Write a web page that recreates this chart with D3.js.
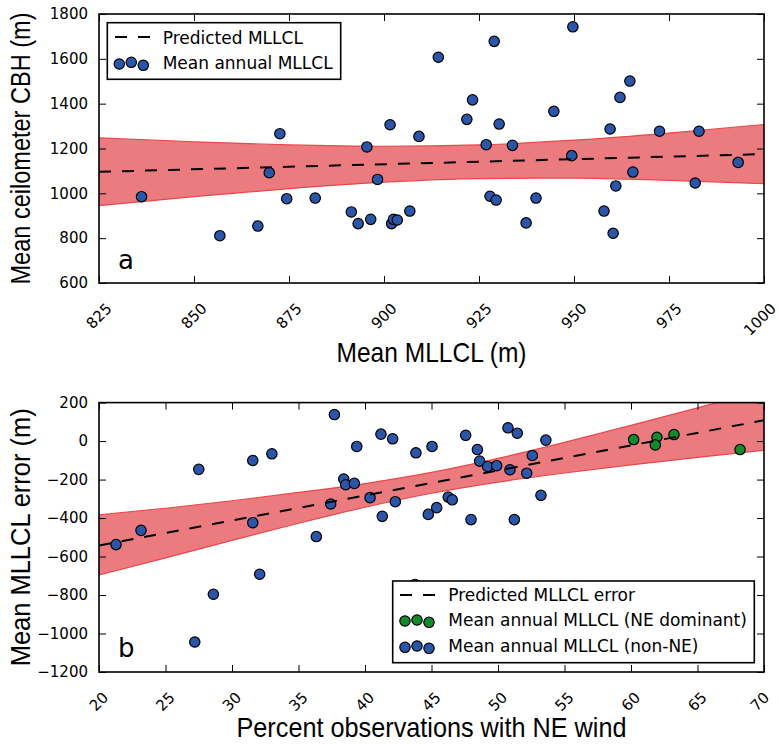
<!DOCTYPE html>
<html><head><meta charset="utf-8">
<script src="https://cdn.jsdelivr.net/npm/d3@7"></script>
<style>body{margin:0;background:#fff}svg{display:block}</style>
</head><body>
<svg id="c" width="779" height="744"></svg>
<script>
// ---------- Panel a data ----------
const aX = [836.2, 856.8, 866.8, 872.6, 869.8, 874.4, 881.9, 891.4, 893.2, 896.5, 895.5, 898.3, 901.6, 902.0, 902.5, 903.5, 906.8, 909.2, 914.3, 929.0, 949.7, 923.3, 921.8, 930.3, 926.9, 933.8, 944.7, 927.9, 929.5, 940.0, 937.4, 949.4, 959.5, 962.1, 964.7, 957.9, 960.3, 961.0, 965.5, 972.5, 982.9, 981.9, 993.2];
const aY = [985, 811, 854, 1266, 1092, 976, 979, 917, 865, 884, 1207, 1062, 1306, 865, 884, 881, 921, 1254, 1607, 1678, 1743, 1417, 1330, 1309, 1217, 1214, 1366, 987, 970, 979, 868, 1168, 1287, 1428, 1501, 921, 822, 1033, 1095, 1277, 1277, 1046, 1138];
const aLineX = [825, 1000];
const aLineY = [1096, 1175];
const aBandX = [825, 850, 875, 900, 925, 950, 975, 1000];
const aBandUpper = [1247, 1230, 1216, 1210, 1216, 1237, 1269, 1307];
const aBandLower = [945, 985, 1021, 1050, 1066, 1068, 1058, 1043];
const aXTicks = [825, 850, 875, 900, 925, 950, 975, 1000];
const aYTicks = [600, 800, 1000, 1200, 1400, 1600, 1800];

// ---------- Panel b data ----------
const bX = [21.28, 23.16, 27.5, 27.2, 28.6, 31.56, 31.56, 32.08, 33.0, 36.34, 37.42, 37.7, 38.4, 38.55, 39.2, 39.38, 40.38, 41.2, 41.3, 42.08, 42.28, 43.83, 44.76, 45.04, 45.39, 46.26, 46.56, 47.57, 47.97, 48.45, 48.62, 49.22, 49.9, 50.75, 50.9, 51.23, 51.45, 52.16, 52.58, 53.23, 53.6, 43.76];
const bY = [-538, -464, -147, -1044, -796, -101, -424, -692, -66, -496, -327, 138, -197, -227, -220, -28, -294, 36, -391, 12, -315, -61, -381, -28, -346, -291, -305, 30, -408, -44, -104, -132, -128, 69, -149, -408, 41, -167, -75, -282, 5, -745];
const gX = [60.2, 61.95, 61.83, 63.23, 68.2];
const gY = [8, 20, -20, 34, -44];
const bLineX = [20, 70];
const bLineY = [-543, 108];
const bBandX = [20, 25, 30, 35, 40, 45, 50, 55, 60, 65, 70];
const bBandUpper = [-383, -349, -310, -267, -221, -163, -90, -7, 82, 173, 265];
const bBandLower = [-696, -607, -516, -427, -344, -271, -213, -166, -124, -85, -48];
const bXTicks = [20, 25, 30, 35, 40, 45, 50, 55, 60, 65, 70];
const bYTicks = [-1200, -1000, -800, -600, -400, -200, 0, 200];

const BLUE = "#2b55a8", GREEN = "#148a2c";
const BAND_FILL = "#ec7b7f", BAND_EDGE = "#e8474b";
const TICKFONT = "DejaVu Sans";
const LABELFONT = "'Liberation Sans Narrow','Liberation Sans',Arial,sans-serif";

const svg = d3.select("#c");
svg.append("rect").attr("width", 779).attr("height", 744).attr("fill", "#fff");

function panel(opt) {
  const {L, R, T, B} = opt;
  const x = d3.scaleLinear().domain(opt.xd).range([L, R]);
  const y = d3.scaleLinear().domain(opt.yd).range([B, T]);
  const g = svg.append("g");
  const cid = "clip" + opt.id;
  svg.append("clipPath").attr("id", cid).append("rect")
    .attr("x", L).attr("y", T).attr("width", R - L).attr("height", B - T);
  const plot = g.append("g").attr("clip-path", `url(#${cid})`);

  const bandData = opt.bandX.map((v, i) => ({x: v, u: opt.bandU[i], l: opt.bandL[i]}));
  plot.append("path").datum(bandData)
    .attr("d", d3.area().curve(d3.curveMonotoneX).x(d => x(d.x)).y0(d => y(d.l)).y1(d => y(d.u)))
    .attr("fill", BAND_FILL).attr("stroke", "none");
  ["u", "l"].forEach(k => {
    plot.append("path").datum(bandData)
      .attr("d", d3.line().curve(d3.curveMonotoneX).x(d => x(d.x)).y(d => y(d[k])))
      .attr("fill", "none").attr("stroke", BAND_EDGE).attr("stroke-width", 1.2);
  });

  opt.series.forEach(s => {
    plot.append("g").selectAll("circle").data(s.x.map((v, i) => [v, s.y[i]])).join("circle")
      .attr("cx", d => x(d[0])).attr("cy", d => y(d[1])).attr("r", 5.2)
      .attr("fill", s.color).attr("stroke", "#000").attr("stroke-width", 1.2);
  });

  plot.append("path").datum(opt.lineX.map((v, i) => [v, opt.lineY[i]]))
    .attr("d", d3.line().x(d => x(d[0])).y(d => y(d[1])))
    .attr("fill", "none").attr("stroke", "#000").attr("stroke-width", 2)
    .attr("stroke-dasharray", "12,11");

  const ax = [
    [d3.axisLeft(y).tickValues(opt.yTicks).tickSize(-7).tickPadding(11).tickFormat(d3.format("d")), `translate(${L},0)`],
    [d3.axisRight(y).tickValues(opt.yTicks).tickSize(-7).tickFormat(""), `translate(${R},0)`],
    [d3.axisTop(x).tickValues(opt.xTicks).tickSize(-7).tickFormat(""), `translate(0,${T})`],
    [d3.axisBottom(x).tickValues(opt.xTicks).tickSize(-7).tickFormat(""), `translate(0,${B})`]
  ];
  ax.forEach(([a, tr]) => {
    const ag = g.append("g").attr("transform", tr).call(a);
    ag.select(".domain").remove();
    ag.selectAll("line").attr("stroke", "#000").attr("stroke-width", 1);
    ag.selectAll("text").attr("font-family", TICKFONT).attr("font-size", 15).attr("fill", "#000");
  });

  opt.xTicks.forEach(v => {
    const t = g.append("text").text(String(v))
      .attr("font-family", TICKFONT).attr("font-size", 15)
      .attr("text-anchor", "middle").attr("dominant-baseline", "central");
    const w = t.node().getComputedTextLength();
    const h = 11;
    const half = (w + h) * Math.SQRT1_2 / 2;
    const cx = Math.min(x(v), 760), cy = B + 19 + half;
    t.attr("transform", `translate(${cx},${cy}) rotate(-45)`);
  });

  g.append("rect").attr("x", L).attr("y", T).attr("width", R - L).attr("height", B - T)
    .attr("fill", "none").attr("stroke", "#000").attr("stroke-width", 1.6);

  g.append("text").text(opt.letter).attr("x", L + 19).attr("y", opt.letterY)
    .attr("font-family", TICKFONT).attr("font-size", 26).attr("fill", "#000");

  g.append("text").text(opt.xlabel).attr("x", (L + R) / 2).attr("y", opt.xlabY)
    .attr("text-anchor", "middle").attr("font-family", LABELFONT).attr("font-size", 28)
    .attr("textLength", opt.xlabLen).attr("lengthAdjust", "spacingAndGlyphs");
  g.append("text").text(opt.ylabel)
    .attr("transform", `translate(30,${(T + B) / 2}) rotate(-90)`)
    .attr("text-anchor", "middle").attr("font-family", LABELFONT).attr("font-size", 27)
    .attr("textLength", opt.ylabLen).attr("lengthAdjust", "spacingAndGlyphs");
  return {x, y, g};
}

panel({
  id: "a", L: 99, R: 764, T: 14, B: 283,
  xd: [825, 1000], yd: [600, 1800],
  bandX: aBandX, bandU: aBandUpper, bandL: aBandLower,
  series: [{x: aX, y: aY, color: BLUE}],
  lineX: aLineX, lineY: aLineY,
  xTicks: aXTicks, yTicks: aYTicks,
  letter: "a", letterY: 269,
  xlabel: "Mean MLLCL (m)", xlabY: 362, xlabLen: 190,
  ylabel: "Mean ceilometer CBH (m)", ylabLen: 272
});

panel({
  id: "b", L: 99, R: 764, T: 402.6, B: 672,
  xd: [20, 70], yd: [-1200, 200],
  bandX: bBandX, bandU: bBandUpper, bandL: bBandLower,
  series: [{x: bX, y: bY, color: BLUE}, {x: gX, y: gY, color: GREEN}],
  lineX: bLineX, lineY: bLineY,
  xTicks: bXTicks, yTicks: bYTicks,
  letter: "b", letterY: 657,
  xlabel: "Percent observations with NE wind", xlabY: 737, xlabLen: 390,
  ylabel: "Mean MLLCL error (m)", ylabLen: 258
});

function legend(box, items) {
  const g = svg.append("g");
  g.append("rect").attr("x", box[0]).attr("y", box[1]).attr("width", box[2] - box[0]).attr("height", box[3] - box[1])
    .attr("fill", "#fff").attr("stroke", "#000").attr("stroke-width", 1.6);
  items.forEach(it => {
    if (it.type === "line") {
      g.append("line").attr("x1", it.sx).attr("x2", it.sx + 35).attr("y1", it.sy).attr("y2", it.sy)
        .attr("stroke", "#000").attr("stroke-width", 2).attr("stroke-dasharray", "12,11");
    } else {
      it.pts.forEach(p => g.append("circle").attr("cx", p[0]).attr("cy", p[1]).attr("r", 5.2)
        .attr("fill", it.color).attr("stroke", "#000").attr("stroke-width", 1.2));
    }
    g.append("text").text(it.label).attr("x", it.tx).attr("y", it.ty)
      .attr("font-family", TICKFONT).attr("font-size", 17).attr("fill", "#000");
  });
}

legend([107.3, 22.7, 340.7, 79.3], [
  {type: "line", sx: 115, sy: 37, label: "Predicted MLLCL", tx: 162.7, ty: 43.5},
  {type: "pts", color: BLUE, pts: [[119.3, 64], [131.3, 62.3], [143.3, 65.3]], label: "Mean annual MLLCL", tx: 162.7, ty: 68.5}
]);
legend([392.7, 581, 754.3, 662.7], [
  {type: "line", sx: 400, sy: 595, label: "Predicted MLLCL error", tx: 448.3, ty: 601},
  {type: "pts", color: GREEN, pts: [[405, 621], [417, 620], [429, 622.3]], label: "Mean annual MLLCL (NE dominant)", tx: 448.3, ty: 626},
  {type: "pts", color: BLUE, pts: [[405, 647.3], [417, 646], [429, 648.3]], label: "Mean annual MLLCL (non-NE)", tx: 448.3, ty: 651.7}
]);
</script>
</body></html>
